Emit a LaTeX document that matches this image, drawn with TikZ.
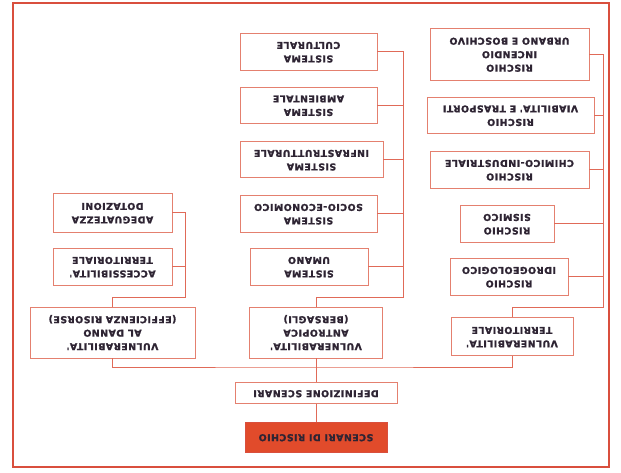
\documentclass[tikz,border=0pt]{standalone}
\usepackage{fontspec}
\usepackage{graphicx}
\newfontfamily\boxfont{DejaVu Sans Bold}[LetterSpace=5, FakeBold=1.5]
\definecolor{framered}{HTML}{D94F3D}
\definecolor{boxline}{HTML}{E4806F}
\definecolor{linkred}{HTML}{E06A58}
\definecolor{riskred}{HTML}{E14B2B}
\definecolor{ink}{HTML}{2E2433}
% the whole sheet is printed upside down
\newcommand{\flip}[1]{\rotatebox{180}{\begin{tabular}{@{}c@{}}#1\end{tabular}}}
\tikzset{
  box/.style={draw=boxline, fill=white, line width=0.9pt, inner sep=0pt, text=ink,
    font=\boxfont\fontsize{9.4}{13.5}\selectfont},
  link/.style={draw=linkred, line width=0.9pt},
  frame/.style={draw=framered, line width=2.5pt}
}

\begin{document}
\begin{tikzpicture}[x=1pt, y=-1pt]
  \useasboundingbox (0,0) rectangle (621,472);
  \draw[frame] (13,3) rectangle (609,467);
  % rischi
  \foreach \n/\x/\y/\w/\h/\t in {rInc/509.5/54/159/52/{RISCHIO\\INCENDIO\\URBANO E BOSCHIVO},
      rVia/510.5/115/167/36/{RISCHIO\\VIABILITA' E TRASPORTI}, rChi/509.5/169.5/159/37/{RISCHIO\\CHIMICO-INDUSTRIALE},
      rSis/507/223.5/94/37/{RISCHIO\\SISMICO}, rIdr/509/276.5/118/37/{RISCHIO\\IDROGEOLOGICO}}
    \node[box, minimum width=\w pt, minimum height=\h pt] (\n) at (\x,\y) {\flip{\t}};
  % sistemi
  \foreach \n/\x/\y/\w/\h/\t in {sCul/308.5/51.5/137/37/{SISTEMA\\CULTURALE}, sAmb/308.5/105/137/36/{SISTEMA\\AMBIENTALE},
      sInf/311.5/159.5/143/36/{SISTEMA\\INFRASTRUTTURALE}, sSoc/308.5/213.5/137/37/{SISTEMA\\SOCIO-ECONOMICO},
      sUma/309/266.5/118/37/{SISTEMA\\UMANO}}
    \node[box, minimum width=\w pt, minimum height=\h pt] (\n) at (\x,\y) {\flip{\t}};
  % risorse
  \foreach \n/\x/\y/\w/\h/\t in {lAde/112.5/212.5/119/39/{ADEGUATEZZA\\DOTAZIONI},
      lAcc/112.5/266.5/119/37/{ACCESSIBILITA'\\TERRITORIALE}}
    \node[box, minimum width=\w pt, minimum height=\h pt] (\n) at (\x,\y) {\flip{\t}};
  % vulnerabilita'
  \foreach \n/\x/\y/\w/\h/\t in {vDan/112.5/332.5/165/51/{VULNERABILITA'\\AL DANNO\\(EFFICIENZA RISORSE)},
      vAnt/316/332.5/133/51/{VULNERABILITA'\\ANTROPICA\\(BERSAGLI)},
      vTer/512/336.5/122/38/{VULNERABILITA'\\TERRITORIALE}}
    \node[box, minimum width=\w pt, minimum height=\h pt] (\n) at (\x,\y) {\flip{\t}};
  \node[box, minimum width=162pt, minimum height=21pt] (def) at (316,393) {\flip{DEFINIZIONE SCENARI}};
  \node[box, draw=framered, fill=riskred, minimum width=142pt, minimum height=30pt] (risk) at (316,437) {\flip{SCENARI DI RISCHIO}};

  % connectors
  \coordinate (rbus) at (603,307);
  \coordinate (mbus) at (403,297);
  \coordinate (lbus) at (185,297);
  \coordinate (bbus) at (316,367);
  \draw[link] (rInc.east) -| (rbus) -| (vTer.north);
  \foreach \n in {rVia,rChi,rSis,rIdr} \draw[link] (\n.east) -- (\n.east -| rbus);
  \draw[link] (sCul.east) -| (mbus) -| (vAnt.north);
  \foreach \n in {sAmb,sInf,sSoc,sUma} \draw[link] (\n.east) -- (\n.east -| mbus);
  \draw[link] (lAde.east) -| (lbus) -| (vDan.north);
  \draw[link] (lAcc.east) -- (lAcc.east -| lbus);
  \draw[link] (vDan.south) |- (bbus) -| (vTer.south);
  \draw[link] (vAnt.south) -- (def.north);
  \draw[link] (def.south) -- (risk.north);
\end{tikzpicture}
\end{document}
